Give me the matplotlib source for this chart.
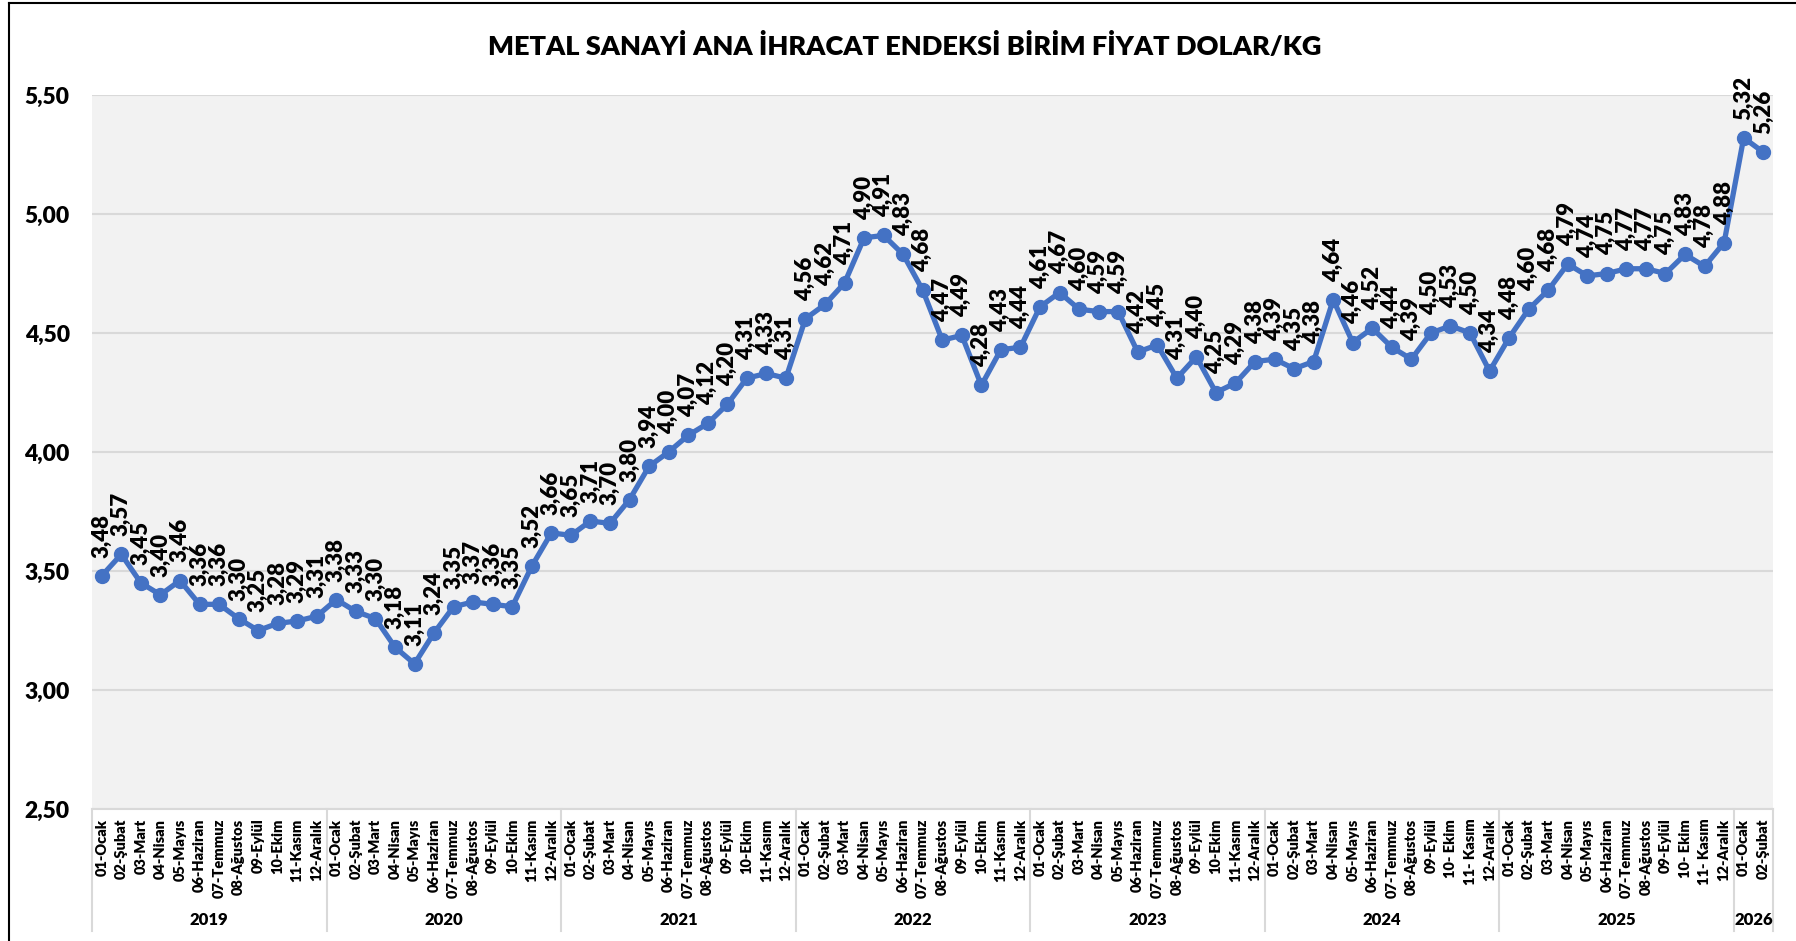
import matplotlib
matplotlib.use("Agg")
import matplotlib.pyplot as plt
from matplotlib.lines import Line2D
import matplotlib.transforms as mtransforms

plt.rcParams['font.family'] = ['Lato', 'DejaVu Sans']

# monthly values, Jan 2019 - Feb 2026
values = [
    3.48, 3.57, 3.45, 3.40, 3.46, 3.36, 3.36, 3.30, 3.25, 3.28, 3.29, 3.31,  # 2019
    3.38, 3.33, 3.30, 3.18, 3.11, 3.24, 3.35, 3.37, 3.36, 3.35, 3.52, 3.66,  # 2020
    3.65, 3.71, 3.70, 3.80, 3.94, 4.00, 4.07, 4.12, 4.20, 4.31, 4.33, 4.31,  # 2021
    4.56, 4.62, 4.71, 4.90, 4.91, 4.83, 4.68, 4.47, 4.49, 4.28, 4.43, 4.44,  # 2022
    4.61, 4.67, 4.60, 4.59, 4.59, 4.42, 4.45, 4.31, 4.40, 4.25, 4.29, 4.38,  # 2023
    4.39, 4.35, 4.38, 4.64, 4.46, 4.52, 4.44, 4.39, 4.50, 4.53, 4.50, 4.34,  # 2024
    4.48, 4.60, 4.68, 4.79, 4.74, 4.75, 4.77, 4.77, 4.75, 4.83, 4.78, 4.88,  # 2025
    5.32, 5.26,                                                              # 2026
]

months_a = ["01-Ocak", "02-Şubat", "03-Mart", "04-Nisan", "05-Mayıs", "06-Haziran",
            "07-Temmuz", "08-Ağustos", "09-Eylül", "10-Ekim", "11-Kasım", "12-Aralık"]
months_b = ["01-Ocak", "02-Şubat", "03-Mart", "04-Nisan", "05-Mayıs", "06-Haziran",
            "07-Temmuz", "08-Ağustos", "09-Eylül", "10- Ekim", "11- Kasım", "12-Aralık"]
years = ["2019", "2020", "2021", "2022", "2023", "2024", "2025", "2026"]
year_months = [12, 12, 12, 12, 12, 12, 12, 2]
year_style = ["a", "a", "a", "a", "a", "b", "b", "b"]

labels = []
for n, st in zip(year_months, year_style):
    src = months_a if st == "a" else months_b
    labels += src[:n]

W, H = 1796, 941
fig = plt.figure(figsize=(W / 100, H / 100), dpi=100)
ax = fig.add_axes([92 / W, 1 - 809 / H, (1773 - 92) / W, (809 - 95) / H])
ax.set_facecolor("#F2F2F2")

x = list(range(len(values)))
ax.plot(x, values, color="#4472C4", lw=3.8, marker="o", ms=10, zorder=3)

for i, v in zip(x, values):
    ax.annotate(f"{v:.2f}".replace(".", ","), (i, v), xytext=(0, 13),
                textcoords="offset points", rotation=90, ha="center", va="bottom",
                fontsize=16, fontweight="heavy", color="black", zorder=4)

ax.set_xlim(-0.5, len(values) - 0.5)
ax.set_ylim(2.5, 5.5)
yt = [2.5, 3.0, 3.5, 4.0, 4.5, 5.0, 5.5]
ax.set_yticks(yt)
ax.set_yticklabels([f"{t:.2f}".replace(".", ",") for t in yt], fontsize=16.5, fontweight="heavy")
ax.yaxis.grid(True, color="#D9D9D9", lw=1.5)
ax.set_axisbelow(True)
ax.tick_params(axis="y", length=0, pad=16)

ax.set_xticks(x)
ax.set_xticklabels(labels, rotation=90, fontsize=10.5, fontweight="heavy", va="top")
ax.tick_params(axis="x", length=0, pad=7)

for s in ["left", "right", "top"]:
    ax.spines[s].set_visible(False)
ax.spines["bottom"].set_color("#D9D9D9")
ax.spines["bottom"].set_linewidth(1.5)

# year group separators and labels below the month labels
trans = mtransforms.blended_transform_factory(ax.transData, fig.transFigure)
start = 0
bounds = [start - 0.5]
for yr, n in zip(years, year_months):
    ax.text(start + (n - 1) / 2, 1 - 920 / H, yr, transform=trans, ha="center",
            va="center", fontsize=12, fontweight="heavy")
    start += n
    bounds.append(start - 0.5)
for b in bounds:
    ax.add_line(Line2D([b, b], [1 - 809 / H, 1 - 931 / H], transform=trans,
                       color="#D9D9D9", lw=1.5, clip_on=False))

fig.text(905 / W, 1 - 46 / H, "METAL SANAYİ ANA İHRACAT ENDEKSİ BİRİM FİYAT DOLAR/KG",
         ha="center", va="center", fontsize=19.5, fontweight="heavy")

# outer chart frame (left and top edges visible)
fig.add_artist(Line2D([9 / W, 9 / W], [0, 1 - 3 / H], transform=fig.transFigure,
                      color="black", lw=1.5))
fig.add_artist(Line2D([9 / W, 1], [1 - 3 / H, 1 - 3 / H], transform=fig.transFigure,
                      color="black", lw=1.5))

fig.savefig("out.png", dpi=100)
